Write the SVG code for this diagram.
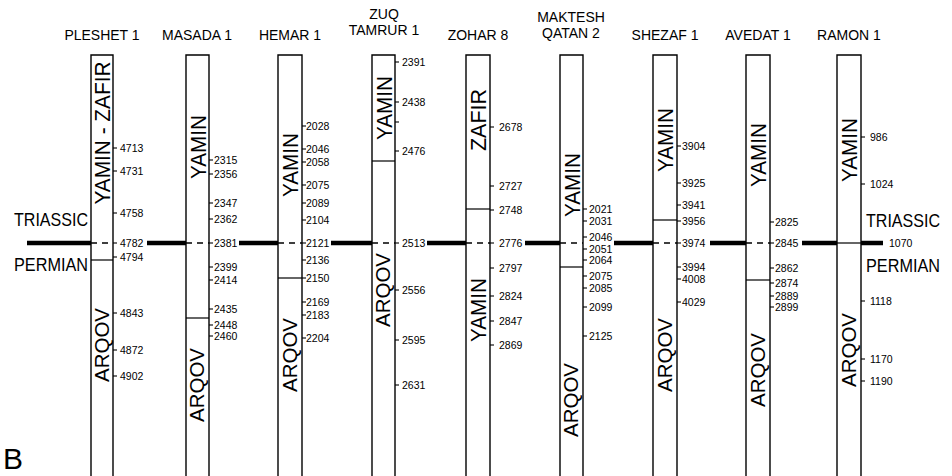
<svg xmlns="http://www.w3.org/2000/svg" width="952" height="476" viewBox="0 0 952 476">
<style>
text{font-family:"Liberation Sans",Arial,sans-serif;fill:#000}
.col{fill:none;stroke:#000;stroke-width:1.4}
.bnd{stroke:#000;stroke-width:1.2}
.dash{stroke:#000;stroke-width:1.3;stroke-dasharray:6 5}
.tk{stroke:#000;stroke-width:1.1}
.d{font-size:10.5px}
.fm{font-size:22px;text-anchor:middle}
.aq{font-size:21px}
.t{font-size:14px;text-anchor:middle}
.big{font-size:18px}
.thick{stroke:#000;stroke-width:4.5}
</style>
<rect width="952" height="476" fill="#fff"/>

<g id="connectors">
<line class="thick" x1="27" y1="243" x2="91" y2="243"/>
<line class="thick" x1="147" y1="243" x2="186" y2="243"/>
<line class="thick" x1="239" y1="243" x2="278" y2="243"/>
<line class="thick" x1="331" y1="243" x2="372" y2="243"/>
<line class="thick" x1="427" y1="243" x2="466" y2="243"/>
<line class="thick" x1="525" y1="243" x2="560" y2="243"/>
<line class="thick" x1="614" y1="243" x2="653" y2="243"/>
<line class="thick" x1="710" y1="243" x2="746" y2="243"/>
<line class="thick" x1="802" y1="243" x2="837" y2="243"/>
<line class="thick" x1="861" y1="243" x2="883" y2="243"/>
</g>

<g id="labels">
<text class="big" x="14" y="226" textLength="74" lengthAdjust="spacingAndGlyphs">TRIASSIC</text>
<text class="big" x="14" y="271" textLength="74" lengthAdjust="spacingAndGlyphs">PERMIAN</text>
<text class="big" x="866" y="227" textLength="74" lengthAdjust="spacingAndGlyphs">TRIASSIC</text>
<text class="big" x="866" y="272" textLength="74" lengthAdjust="spacingAndGlyphs">PERMIAN</text>
<text x="3" y="469" font-size="30">B</text>
</g>

<g id="pleshet1">
<text class="t" x="102" y="40">PLESHET 1</text>
<path class="col" d="M91,480V55H113V480"/>
<line class="bnd" x1="91" y1="260" x2="113" y2="260"/>
<line class="dash" x1="91" y1="243" x2="113" y2="243"/>
<text class="fm" transform="translate(110,133) rotate(-90)" textLength="143" lengthAdjust="spacingAndGlyphs">YAMIN - ZAFIR</text>
<text class="fm aq" transform="translate(108.5,345) rotate(-90)" textLength="74" lengthAdjust="spacingAndGlyphs">ARQOV</text>
<g class="tk"><line x1="113" y1="148" x2="117" y2="148"/><line x1="113" y1="171" x2="117" y2="171"/><line x1="113" y1="213" x2="117" y2="213"/><line x1="113" y1="243" x2="117" y2="243"/><line x1="113" y1="257" x2="117" y2="257"/><line x1="113" y1="313" x2="117" y2="313"/><line x1="113" y1="350" x2="117" y2="350"/><line x1="113" y1="376" x2="117" y2="376"/></g>
<g class="d"><text x="120" y="152">4713</text><text x="120" y="175">4731</text><text x="120" y="217">4758</text><text x="120" y="247">4782</text><text x="120" y="261">4794</text><text x="120" y="317">4843</text><text x="120" y="354">4872</text><text x="120" y="380">4902</text></g>
</g>

<g id="masada1">
<text class="t" x="197" y="40">MASADA 1</text>
<path class="col" d="M186,480V55H209V480"/>
<line class="bnd" x1="186" y1="318" x2="209" y2="318"/>
<line class="dash" x1="186" y1="243" x2="209" y2="243"/>
<text class="fm" transform="translate(205.5,147) rotate(-90)" textLength="64" lengthAdjust="spacingAndGlyphs">YAMIN</text>
<text class="fm aq" transform="translate(204,385) rotate(-90)" textLength="74" lengthAdjust="spacingAndGlyphs">ARQOV</text>
<g class="tk"><line x1="209" y1="160" x2="213" y2="160"/><line x1="209" y1="174" x2="213" y2="174"/><line x1="209" y1="203" x2="213" y2="203"/><line x1="209" y1="219" x2="213" y2="219"/><line x1="209" y1="243" x2="213" y2="243"/><line x1="209" y1="267" x2="213" y2="267"/><line x1="209" y1="280" x2="213" y2="280"/><line x1="209" y1="309" x2="213" y2="309"/><line x1="209" y1="325" x2="213" y2="325"/><line x1="209" y1="336" x2="213" y2="336"/></g>
<g class="d"><text x="214" y="164">2315</text><text x="214" y="178">2356</text><text x="214" y="207">2347</text><text x="214" y="223">2362</text><text x="214" y="247">2381</text><text x="214" y="271">2399</text><text x="214" y="284">2414</text><text x="214" y="313">2435</text><text x="214" y="329">2448</text><text x="214" y="340">2460</text></g>
</g>

<g id="hemar1">
<text class="t" x="290" y="40">HEMAR 1</text>
<path class="col" d="M278,480V55H302V480"/>
<line class="bnd" x1="278" y1="278" x2="302" y2="278"/>
<line class="dash" x1="278" y1="243" x2="302" y2="243"/>
<text class="fm" transform="translate(298,165) rotate(-90)" textLength="64" lengthAdjust="spacingAndGlyphs">YAMIN</text>
<text class="fm aq" transform="translate(296.5,355) rotate(-90)" textLength="74" lengthAdjust="spacingAndGlyphs">ARQOV</text>
<g class="tk"><line x1="302" y1="126" x2="306" y2="126"/><line x1="302" y1="149" x2="306" y2="149"/><line x1="302" y1="162" x2="306" y2="162"/><line x1="302" y1="185" x2="306" y2="185"/><line x1="302" y1="203" x2="306" y2="203"/><line x1="302" y1="220" x2="306" y2="220"/><line x1="302" y1="243" x2="306" y2="243"/><line x1="302" y1="260" x2="306" y2="260"/><line x1="302" y1="278" x2="306" y2="278"/><line x1="302" y1="302" x2="306" y2="302"/><line x1="302" y1="315" x2="306" y2="315"/><line x1="302" y1="338" x2="306" y2="338"/></g>
<g class="d"><text x="306" y="130">2028</text><text x="306" y="153">2046</text><text x="306" y="166">2058</text><text x="306" y="189">2075</text><text x="306" y="207">2089</text><text x="306" y="224">2104</text><text x="306" y="247">2121</text><text x="306" y="264">2136</text><text x="306" y="282">2150</text><text x="306" y="306">2169</text><text x="306" y="319">2183</text><text x="306" y="342">2204</text></g>
</g>

<g id="zuqtamrur1">
<text class="t" x="384" y="19">ZUQ</text>
<text class="t" x="384" y="35">TAMRUR 1</text>
<path class="col" d="M372,480V55H395V480"/>
<line class="bnd" x1="372" y1="161" x2="395" y2="161"/>
<line class="dash" x1="372" y1="243" x2="395" y2="243"/>
<text class="fm" transform="translate(391.5,108) rotate(-90)" textLength="64" lengthAdjust="spacingAndGlyphs">YAMIN</text>
<text class="fm aq" transform="translate(390,290) rotate(-90)" textLength="74" lengthAdjust="spacingAndGlyphs">ARQOV</text>
<g class="tk"><line x1="395" y1="62" x2="399" y2="62"/><line x1="395" y1="102" x2="399" y2="102"/><line x1="395" y1="122" x2="399" y2="122"/><line x1="395" y1="151" x2="399" y2="151"/><line x1="395" y1="243" x2="399" y2="243"/><line x1="395" y1="290" x2="399" y2="290"/><line x1="395" y1="340" x2="399" y2="340"/><line x1="395" y1="385" x2="399" y2="385"/></g>
<g class="d"><text x="402" y="66">2391</text><text x="402" y="106">2438</text><text x="402" y="155">2476</text><text x="402" y="247">2513</text><text x="402" y="294">2556</text><text x="402" y="344">2595</text><text x="402" y="389">2631</text></g>
</g>

<g id="zohar8">
<text class="t" x="478" y="40">ZOHAR 8</text>
<path class="col" d="M466,480V55H490V480"/>
<line class="bnd" x1="466" y1="209" x2="490" y2="209"/>
<line class="dash" x1="466" y1="243" x2="490" y2="243"/>
<text class="fm" transform="translate(486,120) rotate(-90)" textLength="62" lengthAdjust="spacingAndGlyphs">ZAFIR</text>
<text class="fm" transform="translate(486,310) rotate(-90)" textLength="64" lengthAdjust="spacingAndGlyphs">YAMIN</text>
<g class="tk"><line x1="490" y1="127" x2="494" y2="127"/><line x1="490" y1="186" x2="494" y2="186"/><line x1="490" y1="210" x2="494" y2="210"/><line x1="490" y1="243" x2="494" y2="243"/><line x1="490" y1="268" x2="494" y2="268"/><line x1="490" y1="296" x2="494" y2="296"/><line x1="490" y1="321" x2="494" y2="321"/><line x1="490" y1="345" x2="494" y2="345"/></g>
<g class="d"><text x="499" y="131">2678</text><text x="499" y="190">2727</text><text x="499" y="214">2748</text><text x="499" y="247">2776</text><text x="499" y="272">2797</text><text x="499" y="300">2824</text><text x="499" y="325">2847</text><text x="499" y="349">2869</text></g>
</g>

<g id="makteshqatan2">
<text class="t" x="571" y="22">MAKTESH</text>
<text class="t" x="571" y="38">QATAN 2</text>
<path class="col" d="M560,480V55H583V480"/>
<line class="bnd" x1="560" y1="267" x2="583" y2="267"/>
<line class="dash" x1="560" y1="243" x2="583" y2="243"/>
<text class="fm" transform="translate(579.5,185) rotate(-90)" textLength="64" lengthAdjust="spacingAndGlyphs">YAMIN</text>
<text class="fm aq" transform="translate(578,400) rotate(-90)" textLength="74" lengthAdjust="spacingAndGlyphs">ARQOV</text>
<g class="tk"><line x1="583" y1="209" x2="587" y2="209"/><line x1="583" y1="221" x2="587" y2="221"/><line x1="583" y1="237" x2="587" y2="237"/><line x1="583" y1="249" x2="587" y2="249"/><line x1="583" y1="260" x2="587" y2="260"/><line x1="583" y1="276" x2="587" y2="276"/><line x1="583" y1="288" x2="587" y2="288"/><line x1="583" y1="307" x2="587" y2="307"/><line x1="583" y1="336" x2="587" y2="336"/></g>
<g class="d"><text x="589" y="213">2021</text><text x="589" y="225">2031</text><text x="589" y="241">2046</text><text x="589" y="253">2051</text><text x="589" y="264">2064</text><text x="589" y="280">2075</text><text x="589" y="292">2085</text><text x="589" y="311">2099</text><text x="589" y="340">2125</text></g>
</g>

<g id="shezaf1">
<text class="t" x="665" y="40">SHEZAF 1</text>
<path class="col" d="M653,480V55H677V480"/>
<line class="bnd" x1="653" y1="220" x2="677" y2="220"/>
<line class="dash" x1="653" y1="243" x2="677" y2="243"/>
<text class="fm" transform="translate(673,140) rotate(-90)" textLength="64" lengthAdjust="spacingAndGlyphs">YAMIN</text>
<text class="fm aq" transform="translate(671.5,355) rotate(-90)" textLength="74" lengthAdjust="spacingAndGlyphs">ARQOV</text>
<g class="tk"><line x1="677" y1="146" x2="681" y2="146"/><line x1="677" y1="183" x2="681" y2="183"/><line x1="677" y1="205" x2="681" y2="205"/><line x1="677" y1="221" x2="681" y2="221"/><line x1="677" y1="243" x2="681" y2="243"/><line x1="677" y1="267" x2="681" y2="267"/><line x1="677" y1="279" x2="681" y2="279"/><line x1="677" y1="302" x2="681" y2="302"/></g>
<g class="d"><text x="682" y="150">3904</text><text x="682" y="187">3925</text><text x="682" y="209">3941</text><text x="682" y="225">3956</text><text x="682" y="247">3974</text><text x="682" y="271">3994</text><text x="682" y="283">4008</text><text x="682" y="306">4029</text></g>
</g>

<g id="avedat1">
<text class="t" x="758" y="40">AVEDAT 1</text>
<path class="col" d="M746,480V55H770V480"/>
<line class="bnd" x1="746" y1="280" x2="770" y2="280"/>
<line class="dash" x1="746" y1="243" x2="770" y2="243"/>
<text class="fm" transform="translate(766,155) rotate(-90)" textLength="64" lengthAdjust="spacingAndGlyphs">YAMIN</text>
<text class="fm aq" transform="translate(764.5,370) rotate(-90)" textLength="74" lengthAdjust="spacingAndGlyphs">ARQOV</text>
<g class="tk"><line x1="770" y1="222" x2="774" y2="222"/><line x1="770" y1="243" x2="774" y2="243"/><line x1="770" y1="268" x2="774" y2="268"/><line x1="770" y1="283" x2="774" y2="283"/><line x1="770" y1="296" x2="774" y2="296"/><line x1="770" y1="307" x2="774" y2="307"/></g>
<g class="d"><text x="775" y="226">2825</text><text x="775" y="247">2845</text><text x="775" y="272">2862</text><text x="775" y="287">2874</text><text x="775" y="299.5">2889</text><text x="775" y="310.5">2899</text></g>
</g>

<g id="ramon1">
<text class="t" x="849" y="40">RAMON 1</text>
<path class="col" d="M837,480V55H861V480"/>
<line class="bnd" x1="837" y1="243" x2="861" y2="243"/>
<text class="fm" transform="translate(857,150) rotate(-90)" textLength="64" lengthAdjust="spacingAndGlyphs">YAMIN</text>
<text class="fm aq" transform="translate(855.5,350) rotate(-90)" textLength="74" lengthAdjust="spacingAndGlyphs">ARQOV</text>
<g class="tk"><line x1="861" y1="137" x2="865" y2="137"/><line x1="861" y1="184" x2="865" y2="184"/><line x1="861" y1="301" x2="865" y2="301"/><line x1="861" y1="359" x2="865" y2="359"/><line x1="861" y1="381" x2="865" y2="381"/></g>
<g class="d"><text x="870" y="141">986</text><text x="870" y="188">1024</text><text x="889" y="247">1070</text><text x="870" y="305">1118</text><text x="870" y="363">1170</text><text x="870" y="385">1190</text></g>
</g>
</svg>
